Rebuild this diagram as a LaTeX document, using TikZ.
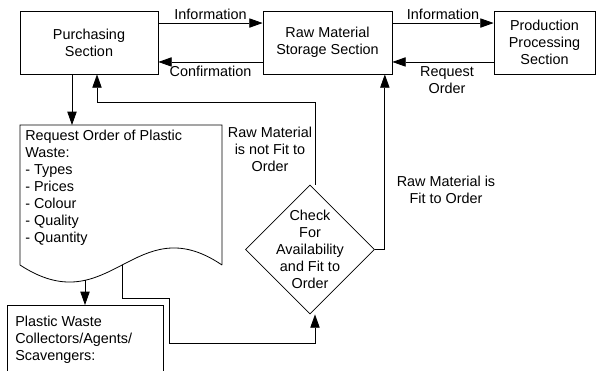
\documentclass[tikz,border=0pt]{standalone}
\usepackage{fontspec}
\setmainfont{Liberation Sans}
\usetikzlibrary{shapes.geometric, arrows.meta}
\tikzset{
  box/.style={draw, line width=0.6pt, align=center, inner sep=0pt},
  decision/.style={draw, diamond, aspect=1, line width=0.6pt, minimum size=96.75pt, inner sep=0pt},
  arr/.style={-{Triangle[length=10pt,width=7pt]}, line width=0.6pt},
  line/.style={line width=0.6pt},
}
\begin{document}
\begin{tikzpicture}[x=0.75pt, y=-0.75pt, font=\fontsize{10.8}{12.75}\selectfont]
    \useasboundingbox (0,0) rectangle (596,371);

    % Sections on top
    \node[box, minimum width=103.5pt, minimum height=47.25pt] (purch) at (89,42.5) {Purchasing\\Section};
    \node[box, minimum width=96.75pt, minimum height=47.25pt] (raw) at (327.5,42.5) {Raw Material\\Storage Section};
    \node[box, minimum width=75.75pt, minimum height=47.25pt] (prod) at (544.5,42.5) {Production\\Processing\\Section};

    % Information flow between sections
    \draw[arr] ([yshift=14.6pt]purch.east) -- node[above, inner sep=2pt] (info1) {Information} ([yshift=14.6pt]raw.west);
    \draw[arr] ([yshift=-14.6pt]raw.west) -- node[below, inner sep=3pt] (confirm) {Confirmation} ([yshift=-14.6pt]purch.east);
    \draw[arr] ([yshift=14.6pt]raw.east) -- node[above, inner sep=2pt] (info2) {Information} ([yshift=14.6pt]prod.west);
    \draw[arr] ([yshift=-14.6pt]prod.west) -- node[below, inner sep=3pt, align=center, xshift=3pt] (request) {Request\\Order} ([yshift=-14.6pt]raw.east);

    % Request order document
    \coordinate (docNW) at (20,125);
    \draw[line] (222,265) -- (222,125) -- (docNW) -- (20,265)
        .. controls (110,324) and (135,206) .. (222,265)
        coordinate[pos=0.29] (waveA) coordinate[pos=0.5] (waveB);
    \node[anchor=north west, align=left, inner sep=0pt] (order) at (25,130)
        {Request Order of Plastic\\Waste:\\- Types\\- Prices\\- Colour\\- Quality\\- Quantity};
    \draw[arr] ([xshift=-12.75pt]purch.south) -- ([xshift=-12.75pt]purch.south |- docNW);

    % Collectors
    \node[box, minimum width=117pt, minimum height=60pt, anchor=north west] (collect) at (7,305) {};
    \node[anchor=north west, align=left, inner sep=0pt] (collecttext) at (15,316)
        {Plastic Waste\\Collectors/Agents/\\Scavengers:};
    \draw[arr] (waveA) -- (waveA |- collect.north);

    % Decision
    \node[decision] (check) at (310,249.5) {};
    \node[align=center, inner sep=0pt] (checktext) at (check) {Check\\For\\Availability\\and Fit to\\Order};
    \draw[arr] (waveB) -- ++(0,33) -- ++(47,0) -- ++(0,45) -| ([xshift=3.75pt]check.south);

    % Outcomes of the check
    \draw[arr] ([xshift=3.75pt]check.north) -- ++(0,-82) -| ([xshift=6pt]purch.south);
    \draw[arr] (check.east) -| ([xshift=43pt]raw.south);
    \node[align=center] (notfit) at (270,149) {Raw Material\\is not Fit to\\Order};
    \node[align=center] (fit) at (446,189.5) {Raw Material is\\Fit to Order};
\end{tikzpicture}
\end{document}
